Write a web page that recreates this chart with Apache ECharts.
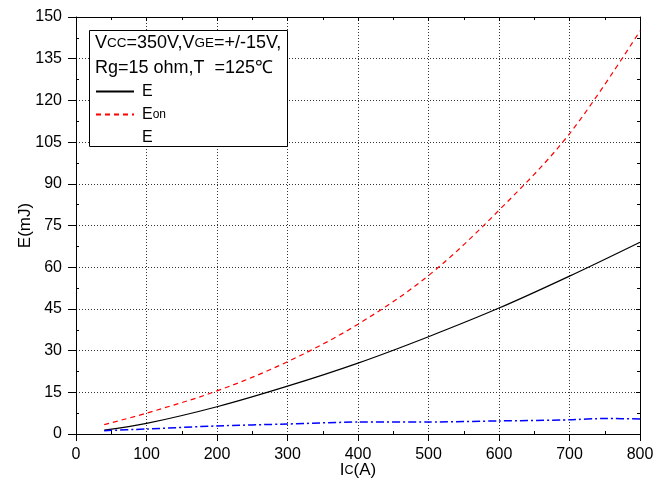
<!DOCTYPE html>
<html>
<head>
<meta charset="utf-8">
<script src="https://cdn.jsdelivr.net/npm/echarts@6/dist/echarts.min.js"></script>
<style>
  html, body { margin: 0; padding: 0; background: #fff; }
  #chart { width: 655px; height: 485px; }
</style>
</head>
<body>
<div id="chart"></div>
<script>
// Switching energy vs collector current, Tj = 125 °C
const currentA = [40, 100, 200, 300, 400, 500, 600, 700, 800];
const eTotal   = [1.4, 3.8, 9.8, 17.2, 25.5, 35.0, 45.3, 56.8, 69.0];
const eOn      = [3.4, 7.5, 15.5, 26.0, 39.5, 57.0, 80.5, 108.0, 145.0];

const currentOffA = [40, 100, 200, 300, 400, 500, 600, 700, 750, 800];
const eOff        = [1.2, 1.8, 2.9, 3.6, 4.3, 4.3, 4.7, 5.1, 5.6, 5.4];

const xTicks = { min: 0, max: 800, step: 100 };
const yTicks = { min: 0, max: 150, step: 15 };

const FONT = "'Liberation Sans', Arial, Helvetica, sans-serif";
const pairs = (xs, ys) => xs.map((x, i) => [x, ys[i]]);

// small capitals sitting on the main baseline (V_CC, V_GE, I_C, E_on)
const smallCaps = (size, lh) => ({ fontFamily: FONT, fontSize: size, color: '#000', lineHeight: lh, verticalAlign: 'middle' });

const chart = echarts.init(document.getElementById('chart'), null, { renderer: 'canvas' });

const baseAxis = {
  type: 'value',
  axisLine: { show: true, onZero: false, lineStyle: { color: '#000', width: 1 } },
  axisLabel: { show: false },
  splitLine: { show: false },
  minorTick: { show: true, splitNumber: 2, length: 3, lineStyle: { color: '#000', width: 1 } }
};

chart.setOption({
  animation: false,
  backgroundColor: '#fff',
  textStyle: { fontFamily: FONT },
  grid: { left: 76, right: 15, top: 17, bottom: 51, containLabel: false, outerBoundsMode: 'none' },
  title: {
    left: 95,
    top: 31,
    padding: 0,
    text: 'V{s|CC}=350V,V{s|GE}=+/-15V,\nRg=15 ohm,T  =125℃',
    textStyle: {
      fontFamily: FONT, fontSize: 18, fontWeight: 'normal', color: '#000', lineHeight: 25,
      rich: { s: smallCaps(13.5, 25) }
    },
    z: 10
  },
  legend: {
    orient: 'vertical',
    left: 95,
    top: 83,
    padding: 0,
    itemGap: 6,
    itemWidth: 38,
    itemHeight: 14,
    textStyle: {
      fontFamily: FONT, fontSize: 16, color: '#000', lineHeight: 17, padding: [0, 0, 0, 3],
      rich: { s: smallCaps(12, 17) }
    },
    formatter: name => ({ Ets: 'E', Eon: 'E{s|on}', Eoff: 'E' }[name]),
    data: [
      { name: 'Ets', itemStyle: { opacity: 0 } },
      { name: 'Eon', itemStyle: { opacity: 0 } },
      { name: 'Eoff', icon: 'none', itemStyle: { opacity: 0 }, lineStyle: { opacity: 0 } }
    ],
    z: 10
  },
  graphic: [{
    type: 'rect',
    left: 89,
    top: 30,
    shape: { width: 198, height: 116 },
    style: { fill: '#fff', stroke: '#000', lineWidth: 1 },
    z: 3
  }],
  xAxis: [
    Object.assign({}, baseAxis, {
      position: 'bottom',
      min: xTicks.min, max: xTicks.max, interval: xTicks.step,
      axisTick: { show: true, inside: false, length: 7, lineStyle: { color: '#000' } },
      minorTick: { show: true, splitNumber: 2, length: -3, lineStyle: { color: '#000', width: 1 } },
      axisLabel: { show: true, fontFamily: FONT, fontSize: 16, color: '#000', margin: 13 },
      splitLine: { show: true, lineStyle: { color: '#333', width: 1, type: [1, 2] } },
      name: 'I{s|C}(A)',
      nameLocation: 'middle',
      nameGap: 24,
      nameMoveOverlap: false,
      nameTextStyle: { fontFamily: FONT, fontSize: 17, color: '#000', lineHeight: 25, rich: { s: smallCaps(12.5, 25) } }
    }),
    Object.assign({}, baseAxis, {
      position: 'top',
      min: xTicks.min, max: xTicks.max, interval: xTicks.step,
      axisTick: { show: true, inside: true, length: 4, lineStyle: { color: '#000' } }
    })
  ],
  yAxis: [
    Object.assign({}, baseAxis, {
      position: 'left',
      min: yTicks.min, max: yTicks.max, interval: yTicks.step,
      axisTick: { show: true, inside: false, length: 8, lineStyle: { color: '#000' } },
      minorTick: { show: true, splitNumber: 2, length: -3, lineStyle: { color: '#000', width: 1 } },
      axisLabel: { show: true, fontFamily: FONT, fontSize: 16, color: '#000', margin: 14 },
      splitLine: { show: true, lineStyle: { color: '#333', width: 1, type: [1, 2] } },
      name: 'E(mJ)',
      nameLocation: 'middle',
      nameGap: 42,
      nameMoveOverlap: false,
      nameTextStyle: { fontFamily: FONT, fontSize: 17, color: '#000' }
    }),
    Object.assign({}, baseAxis, {
      position: 'right',
      min: yTicks.min, max: yTicks.max, interval: yTicks.step,
      axisTick: { show: true, inside: true, length: 4, lineStyle: { color: '#000' } }
    })
  ],
  series: [
    {
      name: 'Ets', type: 'line', xAxisIndex: 0, yAxisIndex: 0,
      data: pairs(currentA, eTotal), smooth: 0.35, symbol: 'none',
      lineStyle: { color: '#000', width: 1.2, type: 'solid' },
      itemStyle: { color: '#000' }
    },
    {
      name: 'Eon', type: 'line', xAxisIndex: 0, yAxisIndex: 0,
      data: pairs(currentA, eOn), smooth: 0.35, symbol: 'none',
      lineStyle: { color: '#ff0000', width: 1.2, type: [5, 4] },
      itemStyle: { color: '#ff0000' }
    },
    {
      name: 'Eoff', type: 'line', xAxisIndex: 0, yAxisIndex: 0,
      data: pairs(currentOffA, eOff), smooth: 0.2, symbol: 'none',
      lineStyle: { color: '#0000ff', width: 1.5, type: [8, 3, 2, 3] },
      itemStyle: { color: '#0000ff' }
    }
  ]
});
</script>
</body>
</html>
